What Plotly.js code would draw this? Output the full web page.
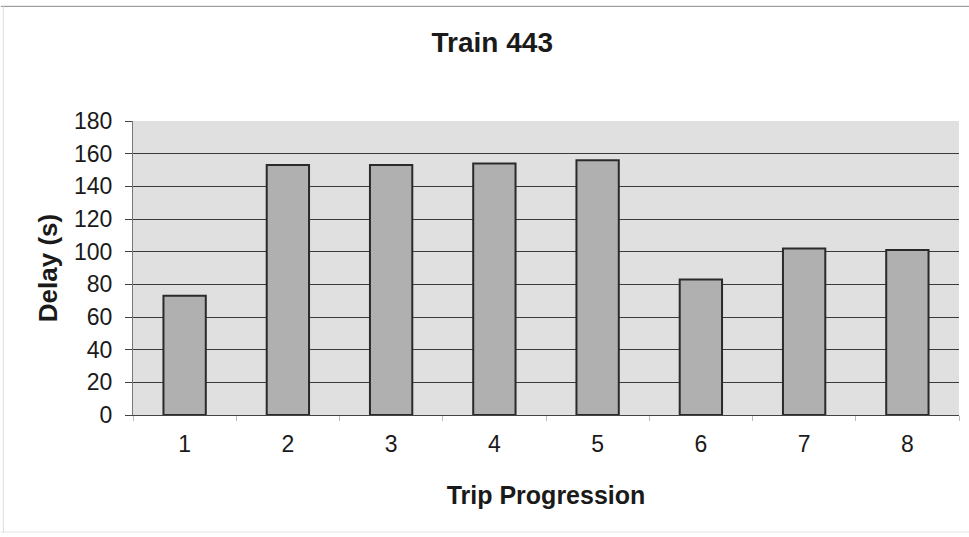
<!DOCTYPE html>
<html>
<head>
<meta charset="utf-8">
<script src="https://cdn.plot.ly/plotly-3.0.1.min.js"></script>
<style>html,body{margin:0;padding:0;background:#fff;}#chart{width:969px;height:537px;}</style>
</head>
<body>
<div id="chart"></div>
<script>
const categories = ["1", "2", "3", "4", "5", "6", "7", "8"];
const delays = [73, 153, 153, 154, 156, 83, 102, 101];
const yTicks = [0, 20, 40, 60, 80, 100, 120, 140, 160, 180];

const FONT = "Liberation Sans, Arial, sans-serif";

const trace = {
  type: "bar",
  x: categories,
  y: delays,
  marker: {color: "#b0b0b0", line: {color: "#2a2a2a", width: 2}},
  hoverinfo: "x+y"
};

const layout = {
  width: 969,
  height: 537,
  margin: {l: 133, r: 10, t: 121, b: 122},
  paper_bgcolor: "#ffffff",
  plot_bgcolor: "#e0e0e0",
  bargap: 0.59,
  showlegend: false,
  title: {text: "<b>Train 443</b>", font: {family: FONT, size: 28, color: "#1a1a1a"}, x: 0.508, xanchor: "center", y: 0.922, yanchor: "middle"},
  xaxis: {
    type: "category",
    tickson: "boundaries",
    ticks: "outside",
    ticklen: 5,
    tickcolor: "#bbbbbb",
    showline: true,
    linecolor: "#444444",
    linewidth: 1,
    showgrid: false,
    tickfont: {family: FONT, size: 23, color: "#1a1a1a"},
    ticklabelstandoff: 8,
    title: {text: "<b>Trip Progression</b>", font: {family: FONT, size: 25, color: "#1a1a1a"}, standoff: 30}
  },
  yaxis: {
    range: [0, 180],
    tickvals: yTicks,
    ticktext: yTicks.map(String),
    ticks: "outside",
    ticklen: 7,
    tickcolor: "#444444",
    showline: true,
    linecolor: "#777777",
    showgrid: true,
    gridcolor: "#3a3a3a",
    gridwidth: 1,
    zeroline: false,
    tickfont: {family: FONT, size: 23, color: "#1a1a1a"},
    ticklabelstandoff: 8,
    title: {text: "<b>Delay (s)</b>", font: {family: FONT, size: 26, color: "#1a1a1a"}, standoff: 8}
  },
  shapes: [
    {type: "line", xref: "paper", yref: "paper", x0: -0.16, x1: 1.02, y0: 1.39, y1: 1.39, line: {color: "#888888", width: 1}},
    {type: "line", xref: "paper", yref: "paper", x0: -0.157, x1: -0.157, y0: -0.4, y1: 1.39, line: {color: "#dddddd", width: 1}},
    {type: "line", xref: "paper", yref: "paper", x0: -0.16, x1: 1.02, y0: -0.398, y1: -0.398, line: {color: "#e4e4e4", width: 1}}
  ]
};

Plotly.newPlot("chart", [trace], layout, {staticPlot: true, displayModeBar: false});
</script>
</body>
</html>
